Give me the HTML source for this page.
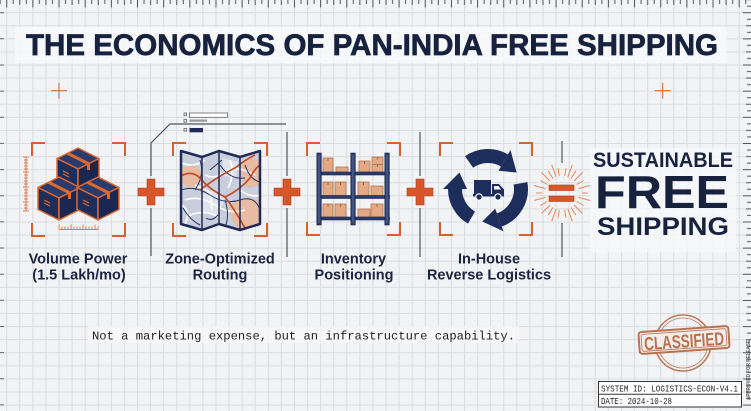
<!DOCTYPE html>
<html><head><meta charset="utf-8"><style>
html,body{margin:0;padding:0;background:#f2f3f5;}
svg{display:block;}
</style></head><body>
<svg width="751" height="411" viewBox="0 0 751 411" xmlns="http://www.w3.org/2000/svg">
<defs>
<pattern id="grid" width="13.08" height="13.08" patternUnits="userSpaceOnUse" x="6.2" y="12.2">
<path d="M0.5 0V13.08M0 0.5H13.08" stroke="#d9dce1" stroke-width="1" fill="none"/>
</pattern>
<pattern id="rulerT" width="26.16" height="10" patternUnits="userSpaceOnUse" x="6.2" y="0">
<path d="M0.5 0V7.5M7.04 0V4M13.58 0V5M20.12 0V4" stroke="#555" stroke-width="1" fill="none"/>
</pattern>
<pattern id="rulerR" width="10" height="26.16" patternUnits="userSpaceOnUse" x="741" y="12.2">
<path d="M2 0.5H10M6 7.04H10M5 13.58H10M6 20.12H10" stroke="#555" stroke-width="1" fill="none"/>
</pattern>
<clipPath id="mapclip"><path d="M181 151L202 157L219 151L240 157L260 151L260 224L240 230L219 224L202 230L181 224Z"/></clipPath>
</defs>

<rect width="751" height="411" fill="#f2f3f5"/>
<rect width="751" height="411" fill="url(#grid)"/>
<rect x="0" y="0" width="751" height="9" fill="url(#rulerT)"/>
<rect x="741" y="0" width="10" height="411" fill="url(#rulerR)"/>
<path d="M0 12.7h4M0 38.8h4M0 65h4M0 91.1h4M0 117.3h4M0 143.4h4M0 169.6h4M0 195.7h4M0 221.9h4M0 248h4M0 274.2h4M0 300.3h4M0 326.5h4M0 352.6h4M0 378.8h4M0 404.9h4" stroke="#666" stroke-width="1"/>

<!-- title -->
<rect x="15" y="27" width="712" height="36" fill="#f7f8f9" opacity="0.85"/>
<text x="26" y="55" font-family="Liberation Sans, sans-serif" font-weight="bold" font-size="30" fill="#17223f" stroke="#17223f" stroke-width="0.7" textLength="692" lengthAdjust="spacingAndGlyphs">THE ECONOMICS OF PAN-INDIA FREE SHIPPING</text>

<!-- crosshairs -->
<path d="M51 90.7h16M59 82.7v16M654.7 90.7h16M662.7 82.7v16" stroke="#c8703a" stroke-width="1.1"/>

<!-- connectors -->
<g stroke="#555" stroke-width="1.2" fill="none">
<path d="M151 176V143L170 124H286"/>
<path d="M151 208V256"/>
<path d="M287 132V176M287 208V257"/>
<path d="M420 132V176M420 208V257"/>
<path d="M562 141V163M562 223V257"/>
</g>

<!-- legend -->
<g>
<rect x="184" y="113" width="2.6" height="2.6" fill="none" stroke="#666" stroke-width="0.8"/>
<rect x="184" y="119.5" width="2.6" height="2.6" fill="none" stroke="#666" stroke-width="0.8"/>
<rect x="184" y="128.5" width="2.6" height="2.6" fill="none" stroke="#666" stroke-width="0.8"/>
<rect x="189.5" y="113" width="38" height="4.3" fill="#fff" stroke="#666" stroke-width="0.8"/>
<rect x="189.5" y="119.5" width="17.5" height="2.2" fill="#999"/>
<rect x="189.5" y="128" width="13.5" height="4.3" fill="#1f2b55"/>
</g>

<!-- brackets -->
<g stroke="#d5612e" stroke-width="2" fill="none" stroke-linecap="square">
<path d="M32 155V143H44M113 143H125V155M32 224V236H44M113 236H125V224"/>
<path d="M173 155V143H185M255 143H267V155M173 224V236H185M255 236H267V224"/>
<path d="M307 155V143H319M388 143H400V155M307 223V235H319M388 235H400V223"/>
<path d="M440 155V143H452M520 143H532V155M440 223V235H452M520 235H532V223"/>
</g>

<!-- rulers box1 -->
<g stroke="#d98050" stroke-width="1" fill="none">
<path d="M26 157V211"/>
<path d="M23 157h6M24 160h4M24 163h4M24 166h4M24 169h4M23 172h6M24 175h4M24 178h4M24 181h4M24 184h4M23 187h6M24 190h4M24 193h4M24 196h4M24 199h4M23 202h6M24 205h4M24 208h4M23 211h6"/>
<path d="M59 229.5H98"/>
<path d="M59 229.5v-5M62 229.5v-3M65 229.5v-3M68 229.5v-3M71 229.5v-5M74 229.5v-3M77 229.5v-3M80 229.5v-3M83 229.5v-5M86 229.5v-3M89 229.5v-3M92 229.5v-3M95 229.5v-5M98 229.5v-3"/>
</g>

<!-- cubes -->
<g stroke="#e0692e" stroke-width="1.5" stroke-linejoin="round">
 <g>
  <path d="M78 148L99 158.5L78 169L57 158.5Z" fill="#2a3b6e"/>
  <path d="M57 158.5L78 169L78 191L57 180.5Z" fill="#1f2d5b"/>
  <path d="M78 169L99 158.5L99 180.5L78 191Z" fill="#1a2750"/>
  <path d="M67.5 153.25L88.5 163.75V170" fill="none" stroke-width="3"/>
  <path d="M63 171l6 3M63 174l6 3" fill="none" stroke-width="1.2"/>
 </g>
 <g>
  <path d="M59 177L80 187.5L59 198L38 187.5Z" fill="#2a3b6e"/>
  <path d="M38 187.5L59 198L59 220L38 209.5Z" fill="#1f2d5b"/>
  <path d="M59 198L80 187.5L80 209.5L59 220Z" fill="#1a2750"/>
  <path d="M48.5 182.25L69.5 192.75V199" fill="none" stroke-width="3"/>
  <path d="M44 200l6 3M44 203l6 3" fill="none" stroke-width="1.2"/>
 </g>
 <g>
  <path d="M98 177L119 187.5L98 198L77 187.5Z" fill="#2a3b6e"/>
  <path d="M77 187.5L98 198L98 220L77 209.5Z" fill="#1f2d5b"/>
  <path d="M98 198L119 187.5L119 209.5L98 220Z" fill="#1a2750"/>
  <path d="M87.5 182.25L108.5 192.75V199" fill="none" stroke-width="3"/>
  <path d="M83 200l6 3M83 203l6 3" fill="none" stroke-width="1.2"/>
 </g>
</g>

<!-- map -->
<g clip-path="url(#mapclip)">
 <rect x="180" y="150" width="82" height="82" fill="#c8cedb"/>
 <path d="M200 195L215 190L225 200L218 215L203 212Z" fill="#dfe3ea"/>
 <path d="M222 158L238 162L236 178L224 176Z" fill="#dfe3ea"/>
 <path d="M181 168L195 165L202 172L200 185L188 188L181 182Z" fill="#e8bba3"/>
 <path d="M240 165L252 158L260 160L260 185L248 188L242 180Z" fill="#e8bba3"/>
 <path d="M228 205L245 198L260 200L260 226L240 231L232 220Z" fill="#e8bba3"/>
 <g stroke="#fff" stroke-width="1.6" fill="none">
  <path d="M181 163Q195 168 205 160M185 200Q200 195 215 205T245 210M205 175Q215 180 225 172T255 175M188 216Q205 208 220 218M230 160Q235 175 228 188M195 185L210 192L212 210M240 190Q250 198 260 195M184 226Q192 212 182 205"/>
 </g>
 <g stroke="#243466" stroke-width="1" fill="none">
  <path d="M181 190Q195 185 210 195T240 200T260 210M200 160Q205 175 195 190M220 165Q230 180 245 178M183 208Q190 220 200 225M225 200Q230 215 225 228M245 165Q250 180 260 182M210 170L222 160M206 218Q212 222 218 215"/>
 </g>
 <g stroke="#c3471f" stroke-width="1.6" fill="none">
  <path d="M181 176Q192 170 200 178Q210 190 225 197Q240 190 250 178Q255 168 260 165M200 190Q220 175 235 168Q245 160 255 155M225 197Q235 210 245 228"/>
 </g>
</g>
<g stroke="#1f2b55" fill="none">
 <path d="M202 157V230M219 151V224M240 157V230" stroke-width="1.5"/>
 <path d="M181 151L202 157L219 151L240 157L260 151L260 224L240 230L219 224L202 230L181 224Z" stroke-width="2.5" stroke-linejoin="round"/>
</g>

<!-- shelf -->
<g>
 <g fill="#e3a985" stroke="#b27352" stroke-width="0.8">
  <rect x="323" y="158" width="10" height="14"/>
  <rect x="336" y="167" width="12" height="5"/>
  <rect x="359" y="161" width="11" height="11"/>
  <rect x="372" y="157" width="11" height="7.5"/>
  <rect x="372" y="164.5" width="11" height="7.5"/>
  <rect x="323" y="182" width="10" height="13.5"/>
  <rect x="335" y="182" width="11" height="13.5"/>
  <rect x="358" y="182" width="11" height="13.5"/>
  <rect x="371" y="186" width="12" height="9.5"/>
  <rect x="323" y="204" width="10" height="13"/>
  <rect x="335" y="204" width="11" height="13"/>
  <rect x="358" y="209" width="12" height="8"/>
  <rect x="371" y="204" width="12" height="13"/>
 </g>
 <path d="M328 158v3M377.5 157v2.5M377.5 164.5v2.5M364.5 161v3M328 182v3M340.5 182v3M363.5 182v3M328 204v3M340.5 204v3M377 204v3" stroke="#9a5f40" stroke-width="0.9"/>
 <g fill="#2c3c6a" stroke="#1c2752" stroke-width="0.6">
  <rect x="317" y="172" width="72.5" height="3"/>
  <rect x="317" y="195.5" width="72.5" height="3"/>
  <rect x="317" y="217" width="72.5" height="3"/>
  <rect x="316.8" y="153" width="4.5" height="72"/>
  <rect x="350.8" y="153" width="4.5" height="72"/>
  <rect x="384.8" y="153" width="4.5" height="72"/>
 </g>
 <path d="M319 155V223M353 155V223M387 155V223" stroke="#6b7aa3" stroke-width="0.8"/>
</g>

<!-- recycle -->
<g fill="#1d2d5c" stroke="none">
 <path d="M469.1 162A33 33 0 0 1 504.5 160.4" fill="none" stroke="#1d2d5c" stroke-width="14"/>
 <path d="M498.5 170.8L510.5 150L516.6 172.5Z"/>
 <path d="M520.5 183.3A33 33 0 0 1 499.3 220" fill="none" stroke="#1d2d5c" stroke-width="14"/>
 <path d="M495.2 208.7L503.4 231.3L482.3 221.5Z"/>
 <path d="M471.5 217.6A33 33 0 0 1 455 189" fill="none" stroke="#1d2d5c" stroke-width="14"/>
 <path d="M467 189L443 189L459.4 172.5Z"/>
 <rect x="474" y="180" width="17" height="14.5"/>
 <path d="M492 184H499L504 189.5V195H492Z"/>
 <rect x="473" y="194" width="31" height="2.5"/>
 <path d="M494 186H498.5L501 189.5H494Z" fill="#fff"/>
 <circle cx="479" cy="197" r="3.2" stroke="#fff" stroke-width="1.2"/>
 <circle cx="498" cy="197" r="3.2" stroke="#fff" stroke-width="1.2"/>
</g>

<!-- plus signs -->
<g fill="#d9552a" stroke="#a84220" stroke-width="0.6">
 <path d="M147 179H155V188H164V196H155V205H147V196H138V188H147Z"/>
 <path d="M283 179H291V188H300V196H291V205H283V196H274V188H283Z"/>
 <path d="M416 179H424V188H433V196H424V205H416V196H407V188H416Z"/>
 <rect x="549" y="185" width="25" height="5.5"/>
 <rect x="549" y="196" width="25" height="5.5"/>
</g>

<!-- starburst -->
<g stroke="#e3895a" stroke-width="1">
 <line x1="562" y1="176" x2="562" y2="164" transform="rotate(-75 562 193)"/>
 <line x1="562" y1="176" x2="562" y2="168" transform="rotate(-60 562 193)"/>
 <line x1="562" y1="176" x2="562" y2="164" transform="rotate(-45 562 193)"/>
 <line x1="562" y1="176" x2="562" y2="167" transform="rotate(-32 562 193)"/>
 <line x1="562" y1="176" x2="562" y2="163" transform="rotate(-20 562 193)"/>
 <line x1="562" y1="176" x2="562" y2="168" transform="rotate(-9 562 193)"/>
 <line x1="562" y1="176" x2="562" y2="168" transform="rotate(9 562 193)"/>
 <line x1="562" y1="176" x2="562" y2="163" transform="rotate(20 562 193)"/>
 <line x1="562" y1="176" x2="562" y2="167" transform="rotate(32 562 193)"/>
 <line x1="562" y1="176" x2="562" y2="164" transform="rotate(45 562 193)"/>
 <line x1="562" y1="176" x2="562" y2="168" transform="rotate(60 562 193)"/>
 <line x1="562" y1="176" x2="562" y2="164" transform="rotate(75 562 193)"/>
 <line x1="562" y1="176" x2="562" y2="164" transform="rotate(105 562 193)"/>
 <line x1="562" y1="176" x2="562" y2="168" transform="rotate(120 562 193)"/>
 <line x1="562" y1="176" x2="562" y2="164" transform="rotate(135 562 193)"/>
 <line x1="562" y1="176" x2="562" y2="167" transform="rotate(148 562 193)"/>
 <line x1="562" y1="176" x2="562" y2="163" transform="rotate(160 562 193)"/>
 <line x1="562" y1="176" x2="562" y2="168" transform="rotate(171 562 193)"/>
 <line x1="562" y1="176" x2="562" y2="168" transform="rotate(189 562 193)"/>
 <line x1="562" y1="176" x2="562" y2="163" transform="rotate(200 562 193)"/>
 <line x1="562" y1="176" x2="562" y2="167" transform="rotate(212 562 193)"/>
 <line x1="562" y1="176" x2="562" y2="164" transform="rotate(225 562 193)"/>
 <line x1="562" y1="176" x2="562" y2="168" transform="rotate(240 562 193)"/>
 <line x1="562" y1="176" x2="562" y2="164" transform="rotate(255 562 193)"/>
 <path d="M536 193h6M582 193h6"/>
</g>

<!-- right headline -->
<rect x="590" y="148" width="146" height="104" fill="#f6f7f8" opacity="0.85"/>
<g font-family="Liberation Sans, sans-serif" font-weight="bold" fill="#17223f">
 <text x="593" y="167" font-size="21" textLength="140" lengthAdjust="spacingAndGlyphs">SUSTAINABLE</text>
 <text x="595" y="208" font-size="46" textLength="134" lengthAdjust="spacingAndGlyphs">FREE</text>
 <text x="597" y="235" font-size="25" textLength="132" lengthAdjust="spacingAndGlyphs">SHIPPING</text>
</g>

<!-- labels -->
<g font-family="Liberation Sans, sans-serif" font-weight="bold" font-size="14.5" fill="#1b2540" text-anchor="middle">
 <text x="78" y="263.5">Volume Power</text>
 <text x="79" y="279.5">(1.5 Lakh/mo)</text>
 <text x="220" y="263.5">Zone-Optimized</text>
 <text x="220" y="279.5">Routing</text>
 <text x="353.5" y="263.5">Inventory</text>
 <text x="354" y="279.5">Positioning</text>
 <text x="489" y="263.5">In-House</text>
 <text x="489" y="279.5">Reverse Logistics</text>
</g>

<!-- tagline -->
<rect x="88" y="326" width="431" height="17" fill="#f7f7f8" opacity="0.8"/>
<text x="92" y="339.5" font-family="Liberation Mono, monospace" font-size="12" fill="#222" textLength="423" lengthAdjust="spacingAndGlyphs">Not a marketing expense, but an infrastructure capability.</text>

<!-- stamp -->
<g opacity="0.88">
 <circle cx="683" cy="343" r="28" fill="none" stroke="#b86a45" stroke-width="1.6"/>
 <circle cx="683" cy="343" r="25" fill="none" stroke="#b86a45" stroke-width="0.8"/>
 <g transform="rotate(-4 684 340)">
  <rect x="639" y="329" width="90" height="22" rx="3" fill="#f4eeea" stroke="#b5603a" stroke-width="2"/>
  <rect x="641.5" y="331.5" width="85" height="17" rx="2" fill="none" stroke="#b5603a" stroke-width="0.8"/>
  <text x="684" y="347.5" text-anchor="middle" font-family="Liberation Sans, sans-serif" font-weight="bold" font-size="18.5" fill="#b5603a" textLength="80" lengthAdjust="spacingAndGlyphs">CLASSIFIED</text>
 </g>
</g>

<!-- system box -->
<rect x="598.5" y="381.5" width="143" height="25.5" fill="#fff" stroke="#333" stroke-width="1"/>
<line x1="598.5" y1="394.3" x2="741.5" y2="394.3" stroke="#333" stroke-width="1"/>
<g font-family="Liberation Mono, monospace" font-size="9.5" fill="#222">
 <text x="601" y="391.3" textLength="137" lengthAdjust="spacingAndGlyphs">SYSTEM ID: LOGISTICS-ECON-V4.1</text>
 <text x="601" y="404" textLength="71" lengthAdjust="spacingAndGlyphs">DATE: 2024-10-28</text>
</g>
<text transform="translate(750,400) rotate(-90)" font-family="Liberation Sans, sans-serif" font-weight="bold" font-size="5.5" fill="#555" textLength="60" lengthAdjust="spacingAndGlyphs">APPROVED FOR RELEASE</text>
</svg>
</body></html>
